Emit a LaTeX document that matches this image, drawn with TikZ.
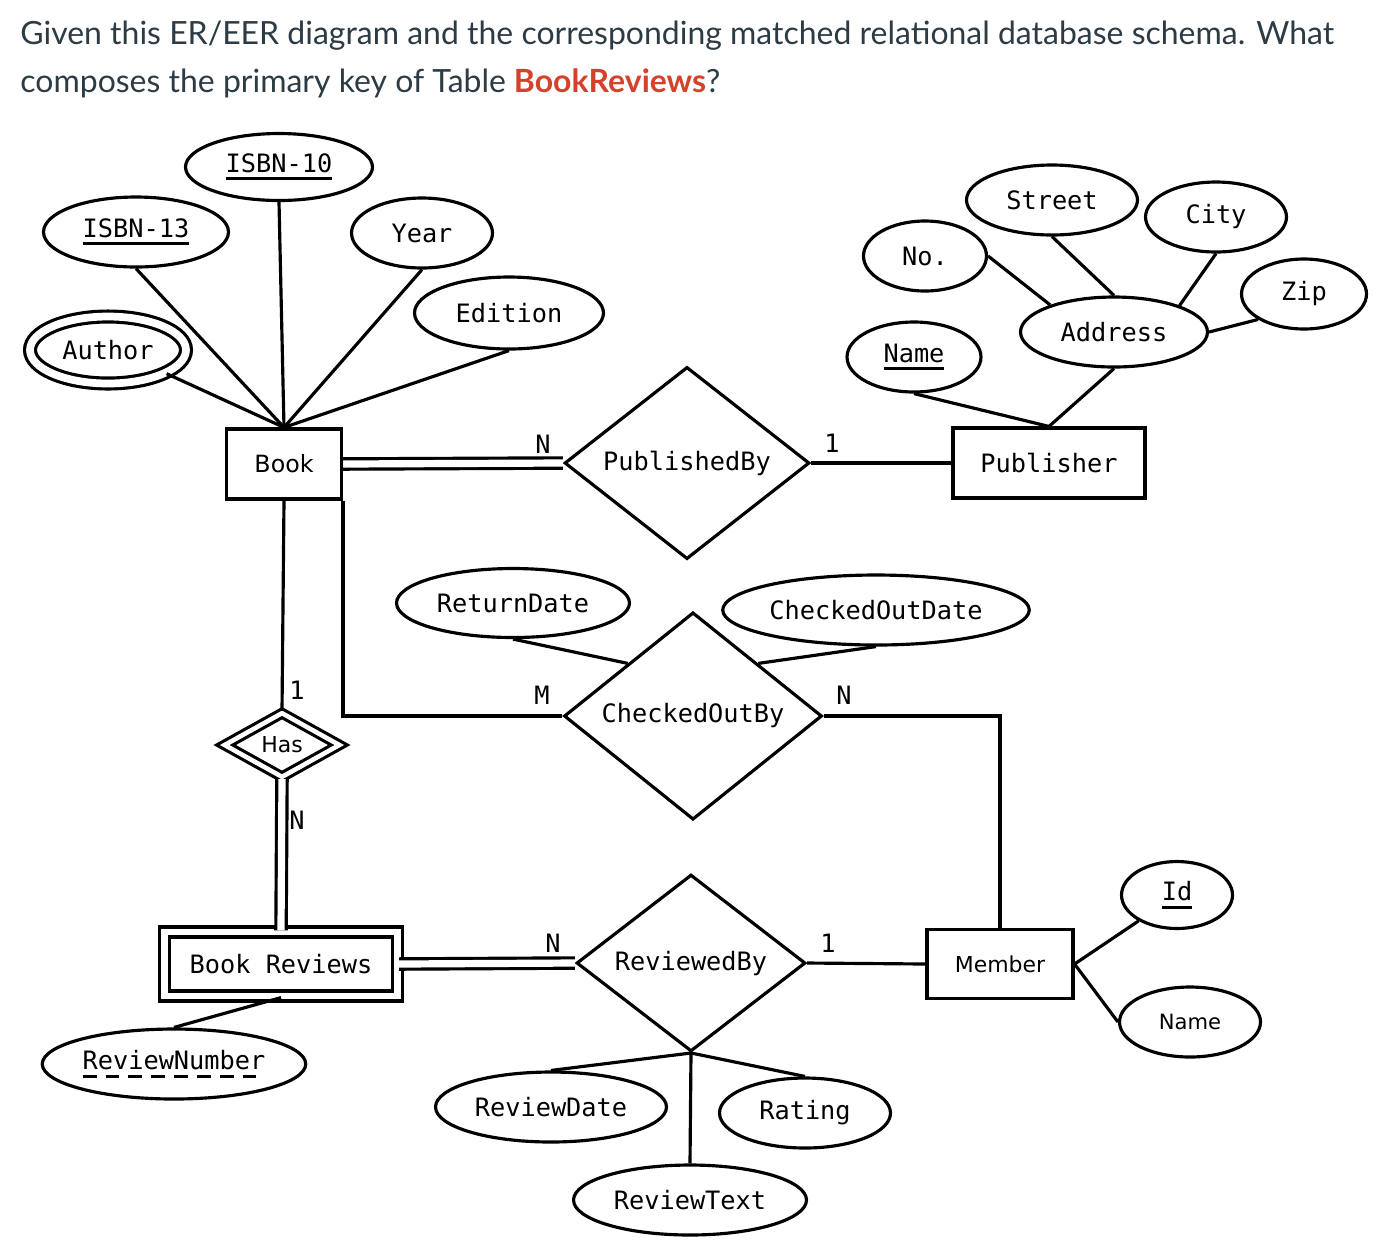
\documentclass[tikz,border=0pt]{standalone}
\usepackage{fontspec}
\usepackage{xcolor}
\usetikzlibrary{shapes.geometric,positioning}
\newfontfamily\erfont{DejaVu Sans Mono}
\newfontfamily\ersans{DejaVu Sans}
\newfontfamily\qfont{Lato}
\definecolor{qtext}{HTML}{2D3B45}
\definecolor{qred}{HTML}{D5412B}
% key underlines
\newsavebox\keybox
\newcommand{\keyattr}[1]{\sbox\keybox{#1}\rlap{\rule[-0.32em]{\wd\keybox}{0.12em}}\usebox\keybox}
\newcommand{\partkey}[1]{\sbox\keybox{#1}\rlap{\raisebox{-0.32em}{\hbox to \wd\keybox{\xleaders\hbox to 0.9em{\rule{0.55em}{0.12em}\hss}\hfil}}}\usebox\keybox}

\begin{document}
\begin{tikzpicture}[x=0.02cm, y=-0.02cm,
    entity/.style={rectangle, draw=black, line width=1.8pt, minimum height=1.4cm, inner sep=0pt, font=\erfont\fontsize{14.4}{16}\selectfont},
    weak/.style={entity, double, double distance=3.9pt},
    attr/.style={ellipse, draw=black, line width=1.8pt, minimum height=1.4cm, inner sep=1pt, font=\erfont\fontsize{14.4}{16}\selectfont},
    multi/.style={attr, double, double distance=4.4pt},
    rel/.style={diamond, draw=black, line width=1.8pt, inner sep=0pt, font=\erfont\fontsize{14.4}{16}\selectfont},
    idrel/.style={rel, double, double distance=2.6pt},
    link/.style={line width=1.8pt},
    total/.style={link, double, double distance=4.1pt},
    card/.style={inner sep=0pt, font=\erfont\fontsize{14.4}{16}\selectfont},
    question/.style={anchor=base west, inner sep=0pt, text=qtext, font=\qfont\fontsize{18.2}{21}\selectfont}
]
    \useasboundingbox (0,0) rectangle (1392,1242);

    % Question
    \node[question] (q1) at (20,44) {Given this ER/EER diagram and the corresponding matched relational database schema. What};
    \node[question] (q2) at (20,92) {composes the primary key of Table \textcolor{qred}{\bfseries BookReviews}?};

    % Entities
    \node[entity, minimum width=2.3cm, font=\ersans\fontsize{13.5}{16}\selectfont] (book) at (284,464) {Book};
    \node[entity, minimum width=3.84cm] (publisher) at (1049,463) {Publisher};
    \node[entity, minimum width=2.92cm, minimum height=1.38cm, font=\ersans\fontsize{12.5}{15}\selectfont] (member) at (1000,964) {Member};
    \node[weak, minimum width=4.66cm, minimum height=1.28cm] (bookrev) at (281,964) {Book Reviews};

    % Relationships
    \node[rel, minimum width=4.9cm, minimum height=2.94cm] (publishedby) at (687,463) {PublishedBy};
    \node[rel, minimum width=5.16cm, minimum height=3.08cm] (checkedoutby) at (693,716) {CheckedOutBy};
    \node[rel, minimum width=4.58cm, minimum height=2.74cm] (reviewedby) at (691,963) {ReviewedBy};
    \node[idrel, minimum width=2.32cm, minimum height=1.3cm, font=\ersans\fontsize{12.5}{15}\selectfont] (has) at (282,745) {Has};

    % Book attributes
    \node[attr, minimum width=3.74cm, minimum height=1.34cm] (isbn10) at (279,167) {\keyattr{ISBN-10}};
    \node[attr, minimum width=3.7cm] (isbn13) at (136,232) {\keyattr{ISBN-13}};
    \node[attr, minimum width=2.82cm] (year) at (422,233) {Year};
    \node[attr, minimum width=3.78cm, minimum height=1.44cm] (edition) at (509,313) {Edition};
    \node[multi, minimum width=3.12cm, minimum height=1.34cm] (author) at (108,350) {Author};

    % Publisher attributes
    \node[attr, minimum width=2.46cm] (no) at (925,256) {No.};
    \node[attr, minimum width=3.42cm] (street) at (1052,200) {Street};
    \node[attr, minimum width=2.82cm] (city) at (1216,217) {City};
    \node[attr, minimum width=2.5cm] (zip) at (1304,294) {Zip};
    \node[attr, minimum width=3.74cm] (address) at (1114,332) {Address};
    \node[attr, minimum width=2.68cm] (pubname) at (914,357) {\keyattr{Name}};

    % CheckedOutBy attributes
    \node[attr, minimum width=4.66cm, minimum height=1.38cm] (returndate) at (513,603) {ReturnDate};
    \node[attr, minimum width=5.9cm] (checkedoutdate) at (876,610) {CheckedOutDate};

    % Review attributes
    \node[attr, minimum width=5.26cm] (reviewnumber) at (174,1064) {\partkey{ReviewNumber}};
    \node[attr, minimum width=4.62cm] (reviewdate) at (551,1107) {ReviewDate};
    \node[attr, minimum width=3.42cm] (rating) at (805,1113) {Rating};
    \node[attr, minimum width=4.66cm] (reviewtext) at (690,1200) {ReviewText};

    % Member attributes
    \node[attr, minimum width=2.22cm, minimum height=1.34cm] (id) at (1177,895) {\keyattr{Id}};
    \node[attr, minimum width=2.82cm, font=\ersans\fontsize{12}{14}\selectfont] (memname) at (1190,1022) {Name};

    % Attribute links
    \draw[link] (isbn13.south) -- (book.north);
    \draw[link] (isbn10.south) -- (book.north);
    \draw[link] (year.south) -- (book.north);
    \draw[link] (edition.south) -- (book.north);
    \draw[link] (author.-22) -- (book.north);
    \draw[link] (no.east) -- (address.157);
    \draw[link] (street.south) -- (address.north);
    \draw[link] (city.south) -- (address.22);
    \draw[link] (zip.209) -- (address.east);
    \draw[link] (address.south) -- (publisher.north);
    \draw[link] (pubname.south) -- (publisher.north);
    \draw[link] (returndate.south) -- (checkedoutby.north west);
    \draw[link] (checkedoutdate.south) -- (checkedoutby.north east);
    \draw[link] (bookrev.south) -- (reviewnumber.north);
    \draw[link] (reviewedby.south) -- (reviewdate.north);
    \draw[link] (reviewedby.south) -- (reviewtext.north);
    \draw[link] (reviewedby.south) -- (rating.north);
    \draw[link] (member.east) -- (id.214);
    \draw[link] (member.east) -- (memname.west);

    % Relationship links
    \draw[total] (book.east) -- (publishedby.west);
    \draw[link] (publishedby.east) -- (publisher.west);
    \draw[link] (book.south) -- (has.north);
    \draw[total] (has.south) -- (bookrev.north);
    \draw[link] (book.south east) |- (checkedoutby.west);
    \draw[link] (checkedoutby.east) -| (member.north);
    \draw[total] (bookrev.east) -- (reviewedby.west);
    \draw[link] (reviewedby.east) -- (member.west);

    % Cardinalities
    \node[card] (cpub1) at (543,444) {N};
    \node[card] (cpub2) at (832,443) {1};
    \node[card] (chas1) at (297,690) {1};
    \node[card] (chas2) at (297,820) {N};
    \node[card] (cout1) at (542,695) {M};
    \node[card] (cout2) at (844,695) {N};
    \node[card] (crev1) at (553,943) {N};
    \node[card] (crev2) at (828,943) {1};
\end{tikzpicture}
\end{document}
